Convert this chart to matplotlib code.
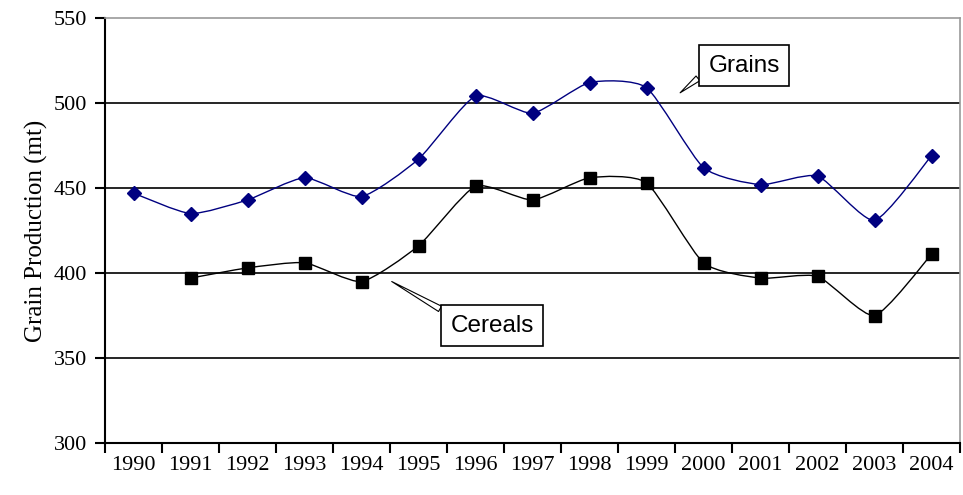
import numpy as np
import matplotlib.pyplot as plt
from matplotlib.path import Path
from matplotlib.patches import PathPatch

years = ['1990', '1991', '1992', '1993', '1994', '1995', '1996', '1997',
         '1998', '1999', '2000', '2001', '2002', '2003', '2004']
grains = [447, 435, 443, 456, 445, 467, 504, 494, 512, 509, 462, 452, 457, 431, 469]
# cereals start in 1991
cereals = [None, 397, 403, 406, 395, 416, 451, 443, 456, 453, 406, 397, 398, 375, 411]


def smooth_path(x, y, k=0.1):
    # smoothed line, bezier control points from neighbours
    pts = np.column_stack([x, y]).astype(float)
    n = len(pts)
    verts = [pts[0]]
    codes = [Path.MOVETO]
    for i in range(n - 1):
        p0 = pts[i - 1] if i > 0 else pts[i]
        p1 = pts[i]
        p2 = pts[i + 1]
        p3 = pts[i + 2] if i + 2 < n else pts[i + 1]
        c1 = p1 + (p2 - p0) * k
        c2 = p2 - (p3 - p1) * k
        verts += [c1, c2, p2]
        codes += [Path.CURVE4] * 3
    return Path(verts, codes)


fig = plt.figure(figsize=(9.63, 4.95), dpi=100)
ax = fig.add_axes([105 / 963, 52 / 495, 855 / 963, 425 / 495])

x = np.arange(len(years))
gx = x
gy = np.array(grains, dtype=float)
cx = np.array([i for i, v in enumerate(cereals) if v is not None])
cy = np.array([v for v in cereals if v is not None], dtype=float)

blue = '#000080'
ax.add_patch(PathPatch(smooth_path(gx, gy), fill=False, edgecolor=blue, lw=1.0, zorder=3))
ax.add_patch(PathPatch(smooth_path(cx, cy), fill=False, edgecolor='black', lw=1.0, zorder=3))
ax.plot(gx, gy, ls='none', marker='D', ms=7.5, color=blue, zorder=4)
ax.plot(cx, cy, ls='none', marker='s', ms=9, color='black', zorder=4)

ax.set_xlim(-0.5, len(years) - 0.5)
ax.set_ylim(300, 550)

# grid
for v in [350, 400, 450, 500]:
    ax.axhline(v, color='black', lw=1.2, zorder=1)

ax.set_yticks([300, 350, 400, 450, 500, 550])
ax.set_xticks(np.arange(-0.5, len(years)), labels=[''] * (len(years) + 1))
ax.set_xticks(x, labels=years, minor=True)
ax.tick_params(axis='x', which='major', direction='out', length=7, width=1.5)
ax.tick_params(axis='x', which='minor', length=0, pad=9, labelsize=16)
ax.tick_params(axis='y', direction='out', length=7, width=1.5, labelsize=16, pad=6)
for lab in ax.get_xticklabels(minor=True) + ax.get_yticklabels():
    lab.set_fontfamily('Liberation Serif')

ax.set_ylabel('Grain Production (mt)', fontfamily='Liberation Serif', fontsize=18, labelpad=4)

for s in ['left', 'bottom']:
    ax.spines[s].set_linewidth(1.5)
    ax.spines[s].set_color('black')
for s in ['top', 'right']:
    ax.spines[s].set_linewidth(1.2)
    ax.spines[s].set_color('#9a9a9a')

box = dict(boxstyle='square,pad=0.4', fc='white', ec='black', lw=1.2)
ax.annotate('Grains', xy=(9.59, 506), xytext=(10.71, 522),
            ha='center', va='center', fontsize=17.5, fontfamily='Liberation Sans', bbox=box,
            arrowprops=dict(arrowstyle='wedge,tail_width=0.25', fc='white', ec='black', lw=0.8,
                            shrinkA=0, shrinkB=0, relpos=(0, 0.3)))
ax.annotate('Cereals', xy=(4.53, 395), xytext=(6.29, 369),
            ha='center', va='center', fontsize=17.5, fontfamily='Liberation Sans', bbox=box,
            arrowprops=dict(arrowstyle='wedge,tail_width=0.25', fc='white', ec='black', lw=0.8,
                            shrinkA=0, shrinkB=0, relpos=(0, 1)))

fig.savefig('out.png', dpi=100)
